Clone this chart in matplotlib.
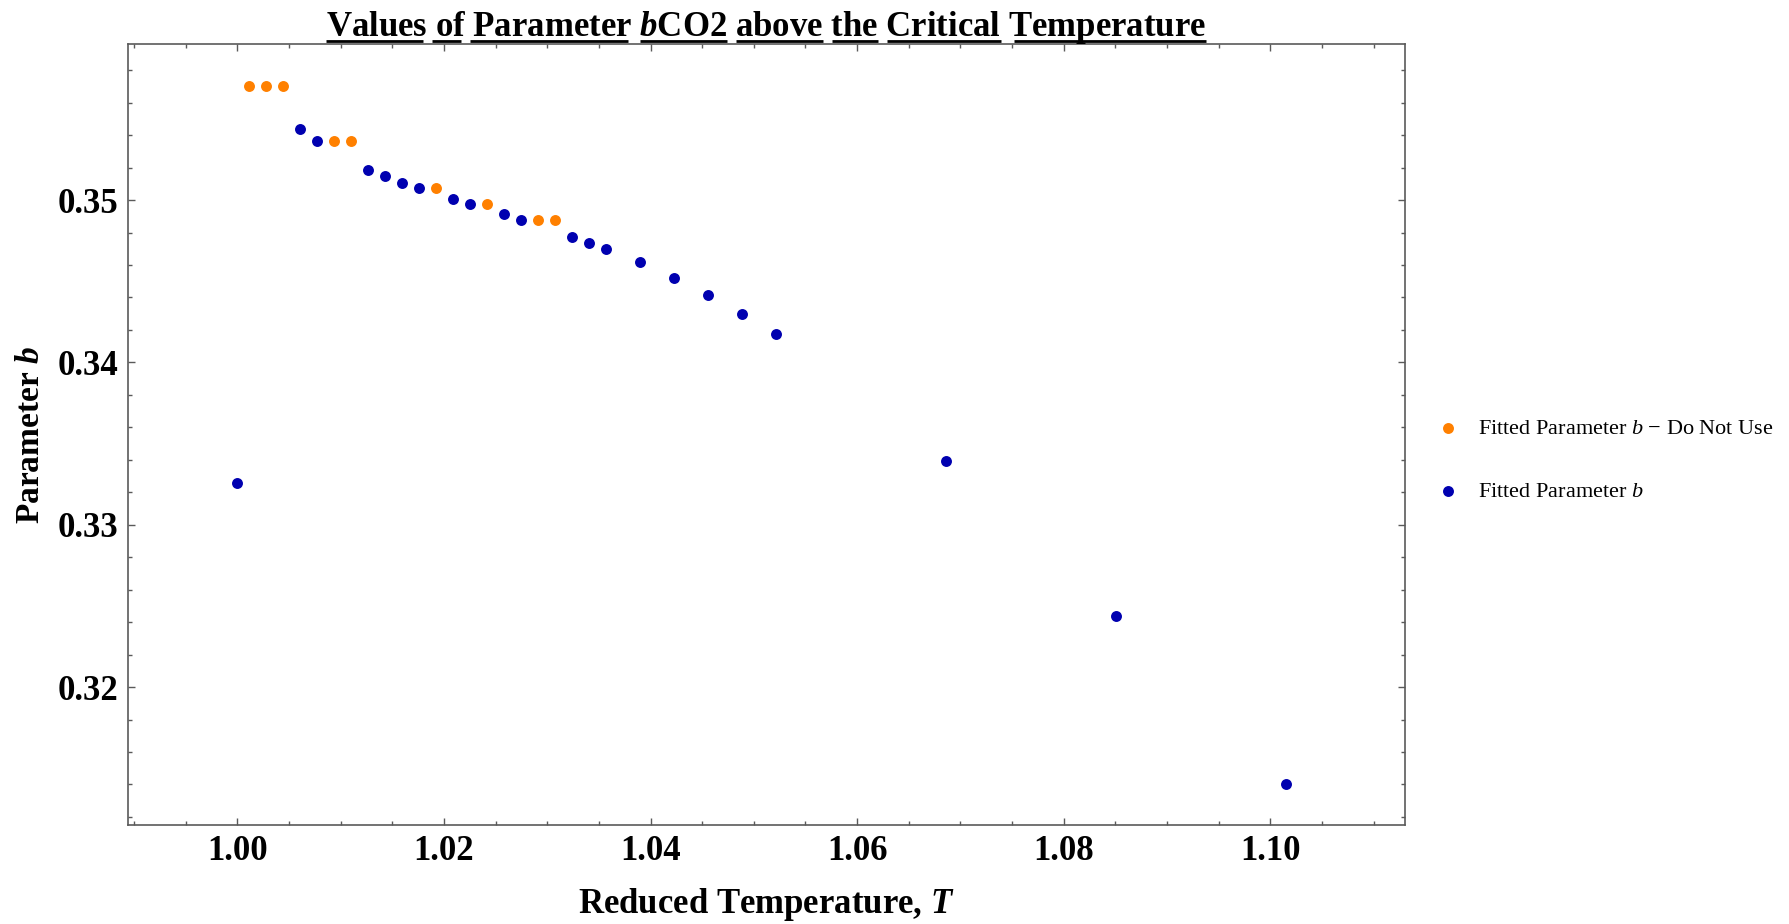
import matplotlib
matplotlib.use('Agg')
import matplotlib.pyplot as plt
from matplotlib.ticker import MultipleLocator, FormatStrFormatter
from matplotlib.lines import Line2D

plt.rcParams['font.family'] = ['Liberation Serif', 'DejaVu Serif']
plt.rcParams['font.weight'] = 'bold'
plt.rcParams['mathtext.fontset'] = 'custom'
plt.rcParams['mathtext.rm'] = 'Liberation Serif:weight=normal'
plt.rcParams['mathtext.it'] = 'Liberation Serif:style=italic:weight=normal'
plt.rcParams['mathtext.bf'] = 'Liberation Serif:weight=bold'
plt.rcParams['mathtext.bfit'] = 'Liberation Serif:style=italic:weight=bold'

# reduced temperature / fitted b, points flagged as unusable
tr_skip = [1.00114, 1.00276, 1.0044, 1.00934, 1.01098, 1.01921, 1.02417, 1.0291, 1.03075]
b_skip = [0.35702, 0.35702, 0.35702, 0.35363, 0.35363, 0.35074, 0.34974, 0.34875, 0.34875]

# reduced temperature / fitted b, usable points
tr_fit = [1.0, 1.00605, 1.00769, 1.01263, 1.01427, 1.01592, 1.01756, 1.02088, 1.02253,
          1.02579, 1.02746, 1.0324, 1.03405, 1.0357, 1.03897, 1.04226, 1.04555, 1.04884,
          1.05213, 1.06857, 1.08506, 1.10151]
b_fit = [0.33258, 0.35441, 0.35363, 0.35183, 0.35146, 0.35103, 0.35074, 0.35006, 0.34974,
         0.34912, 0.34875, 0.3477, 0.34734, 0.34697, 0.34617, 0.34518, 0.34414, 0.34297,
         0.34174, 0.33394, 0.32438, 0.31404]

W, H = 1789, 924
fig = plt.figure(figsize=(W / 100, H / 100), dpi=100)
ax = fig.add_axes([0.0714, 0.1071, 0.7138, 0.845])

ax.scatter(tr_skip, b_skip, s=62, color='#FF8000', linewidths=0, zorder=3,
           label='Fitted Parameter $b$ \u2212 Do Not Use')
ax.scatter(tr_fit, b_fit, s=62, color='#0000B0', linewidths=0, zorder=3,
           label='Fitted Parameter $b$')

ax.set_xlim(0.9894, 1.1130)
ax.set_ylim(0.3115, 0.3596)

ax.xaxis.set_major_locator(MultipleLocator(0.02))
ax.xaxis.set_minor_locator(MultipleLocator(0.005))
ax.yaxis.set_major_locator(MultipleLocator(0.01))
ax.yaxis.set_minor_locator(MultipleLocator(0.002))
ax.xaxis.set_major_formatter(FormatStrFormatter('%.2f'))
ax.yaxis.set_major_formatter(FormatStrFormatter('%.2f'))

frame = '#5a5a5a'
for sp in ax.spines.values():
    sp.set_color(frame)
    sp.set_linewidth(1.2)
ax.tick_params(which='both', direction='in', top=True, right=True, color=frame, width=1.0)
ax.tick_params(which='major', length=5, labelsize=25, pad=7)
ax.tick_params(which='minor', length=3)

ax.set_xlabel('Reduced Temperature, $\\mathbfit{T}$', fontsize=25, fontweight='bold',
              labelpad=13)
ax.set_ylabel('Parameter $\\mathbfit{b}$', fontsize=24, fontweight='bold', labelpad=8)

fig.legend(loc='center left', bbox_to_anchor=(0.7967, 0.5022), frameon=False,
           prop={'family': 'Liberation Serif', 'weight': 'normal', 'size': 16},
           handlelength=1.0, handletextpad=0.86, labelspacing=1.9, borderpad=0,
           scatterpoints=1)

# title with each word underlined
words = ['Values', 'of', 'Parameter', '$\\mathbfit{b}$CO2', 'above', 'the',
         'Critical', 'Temperature']
tsize = 25
title = fig.text(0.4283, 1 - 36 / H, ' '.join(words), ha='center', va='baseline',
                 fontsize=tsize, fontweight='bold')
fig.canvas.draw()
r = fig.canvas.get_renderer()
tx0 = title.get_window_extent(r).x0


def width_of(s):
    t = fig.text(0, 0, s, fontsize=tsize, fontweight='bold')
    bb = t.get_window_extent(r)
    t.remove()
    return bb.x1 - bb.x0


uy = 1 - 40.7 / H
for i, w in enumerate(words):
    end = tx0 + width_of(' '.join(words[:i + 1]))
    start = end - width_of(w)
    fig.add_artist(Line2D([start / W, end / W], [uy, uy], transform=fig.transFigure,
                          color='black', linewidth=2.0, solid_capstyle='butt'))

fig.savefig('out.png', dpi=100)
